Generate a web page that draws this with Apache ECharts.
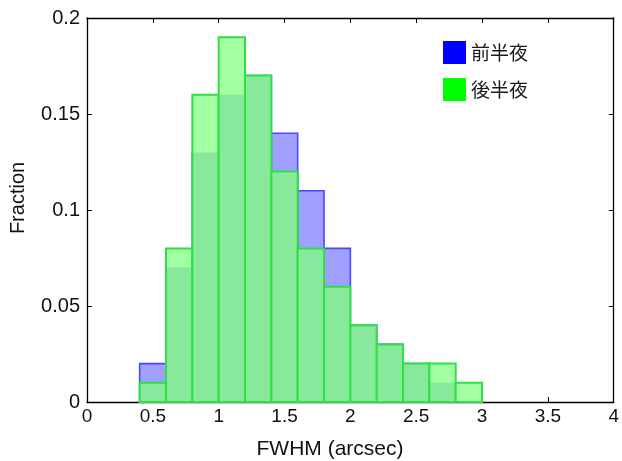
<!DOCTYPE html>
<html>
<head>
<meta charset="utf-8">
<script src="https://cdn.jsdelivr.net/npm/echarts@6/dist/echarts.min.js"></script>
<style>
  html, body { margin: 0; padding: 0; background: #fff; }
  #main { width: 622px; height: 461px; }
</style>
</head>
<body>
<div id="main"></div>
<script>
// bin edges (arcsec), width 0.2
const binStart = [0.4, 0.6, 0.8, 1.0, 1.2, 1.4, 1.6, 1.8, 2.0, 2.2, 2.4, 2.6, 2.8]
const binWidth = 0.2
// 前半夜 / 後半夜 fractions
const firstHalf = [0.02, 0.07, 0.13, 0.16, 0.17, 0.14, 0.11, 0.08, 0.04, 0.03, 0.02, 0.01, 0]
const secondHalf = [0.01, 0.08, 0.16, 0.19, 0.17, 0.12, 0.08, 0.06, 0.04, 0.03, 0.02, 0.02, 0.01]
const names = ['前半夜', '後半夜']

const font = '"Liberation Sans", "Noto Sans CJK JP", sans-serif'

function rectFor(api, x0, x1, v) {
    const p0 = api.coord([x0, 0])
    const p1 = api.coord([x1, v])
    return { x: p0[0], y: p1[1], width: p1[0] - p0[0], height: p0[1] - p1[1] }
}

// 前半夜: plain blue bars
function renderFirst(params, api) {
    const i = params.dataIndex
    const v = firstHalf[i]
    if (!v) return null
    return {
        type: 'rect',
        shape: rectFor(api, binStart[i], binStart[i] + binWidth, v),
        style: { fill: '#a0a0ff', stroke: '#4848ff', lineWidth: 1.6 }
    }
}

// 後半夜: green bars, darker where they overlap the blue ones
function renderSecond(params, api) {
    const i = params.dataIndex
    const v = secondHalf[i]
    if (!v) return null
    const x0 = binStart[i], x1 = binStart[i] + binWidth
    const both = Math.min(v, firstHalf[i])
    const children = [{
        type: 'rect',
        shape: rectFor(api, x0, x1, v),
        style: { fill: '#a2ffa2', stroke: 'none' }
    }]
    if (both > 0) {
        children.push({
            type: 'rect',
            shape: rectFor(api, x0, x1, both),
            style: { fill: '#88e89c', stroke: 'none' }
        })
    }
    children.push({
        type: 'rect',
        shape: rectFor(api, x0, x1, v),
        style: { fill: 'none', stroke: '#2ee044', lineWidth: 2 }
    })
    return { type: 'group', children: children }
}

const frameAxis = {
    axisLine: { show: true, onZero: false, lineStyle: { color: '#000', width: 1.3 } },
    axisTick: { show: true, inside: true, length: 5, lineStyle: { color: '#000' } },
    splitLine: { show: false }
}

const chart = echarts.init(document.getElementById('main'))
chart.setOption({
    animation: false,
    backgroundColor: '#fff',
    textStyle: { fontFamily: font },
    grid: { left: 87, right: 5, top: 18, bottom: 59 },
    legend: {
        orient: 'vertical',
        left: 438,
        top: 36,
        icon: 'rect',
        itemWidth: 23,
        itemHeight: 23,
        itemGap: 14,
        textStyle: { fontSize: 19, color: '#1a1a1a', fontFamily: '"Noto Sans CJK JP", sans-serif' },
        data: names
    },
    graphic: [{
        type: 'text', x: 330, y: 449,
        style: { text: 'FWHM (arcsec)', align: 'center', verticalAlign: 'middle',
                 font: '21px ' + font, fill: '#111' }
    }, {
        type: 'text', x: 18.5, y: 198, rotation: Math.PI / 2,
        style: { text: 'Fraction', align: 'center', verticalAlign: 'middle',
                 font: '20px ' + font, fill: '#111' }
    }],
    xAxis: [Object.assign({
        type: 'value', min: 0, max: 4, interval: 0.5,
        axisLabel: { fontSize: 19, color: '#111', margin: 5 }
    }, frameAxis), Object.assign({
        type: 'value', min: 0, max: 4, interval: 0.5, position: 'top',
        axisLabel: { show: false }
    }, frameAxis)],
    yAxis: [Object.assign({
        type: 'value', min: 0, max: 0.2, interval: 0.05,
        axisLabel: { fontSize: 20, color: '#111', margin: 7 }
    }, frameAxis), Object.assign({
        type: 'value', min: 0, max: 0.2, interval: 0.05, position: 'right',
        axisLabel: { show: false }
    }, frameAxis)],
    series: [{
        name: names[0],
        type: 'custom',
        renderItem: renderFirst,
        itemStyle: { color: '#0000ff' },
        encode: { x: 0, y: 1 },
        data: binStart.map((b, i) => [b, firstHalf[i]]),
        z: 2
    }, {
        name: names[1],
        type: 'custom',
        renderItem: renderSecond,
        itemStyle: { color: '#00ff00' },
        encode: { x: 0, y: 1 },
        data: binStart.map((b, i) => [b, secondHalf[i]]),
        z: 3
    }]
})
</script>
</body>
</html>
